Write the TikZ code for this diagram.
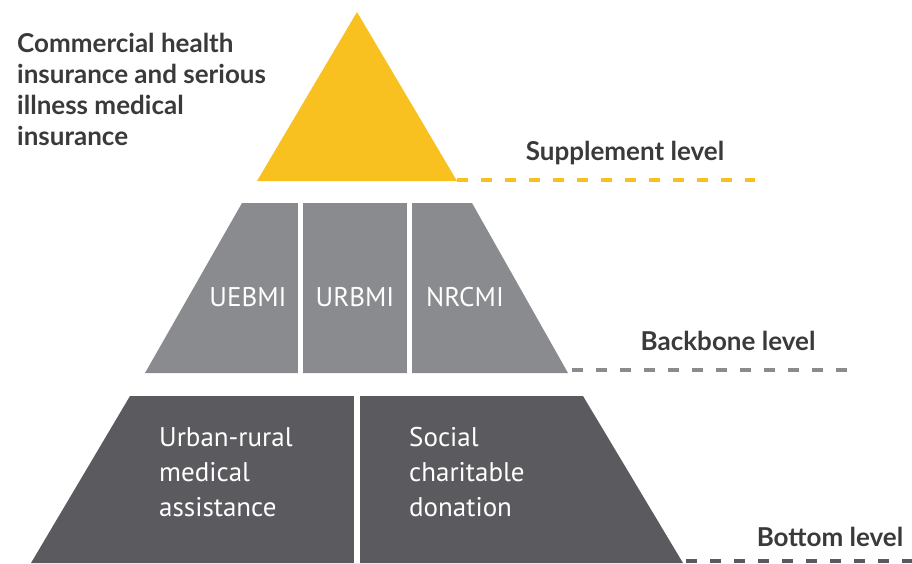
\documentclass[tikz,border=0pt]{standalone}
\usepackage{fontspec}
\setmainfont{Lato}
\newfontfamily\condfont{PT Sans}
\definecolor{supyellow}{HTML}{F8C120}
\definecolor{midgray}{HTML}{8A8B8E}
\definecolor{botgray}{HTML}{5B5B5F}
\definecolor{labeltext}{HTML}{3A3A3A}
\tikzset{
  levellabel/.style={font=\fontsize{26}{31}\selectfont\bfseries, text=labeltext},
  inlabel/.style={font=\condfont\fontsize{27}{35}\selectfont, text=white},
  levelline/.style={line width=3.5pt, dash pattern=on 11pt off 13pt}
}
\begin{document}
\begin{tikzpicture}[x=1pt,y=-1pt]

\useasboundingbox (0,0) rectangle (912,563);

%% supplement level
\fill[supyellow] (357,12) -- (457,181) -- (257,181) -- cycle;
\coordinate (supR) at (457,180);
\coordinate (supE) at (755,180);
\draw[levelline, supyellow] (supR) -- (supE);
\node[levellabel, anchor=west, align=left, inner sep=0pt] (commercial) at (17,89)
  {Commercial health\\insurance and serious\\illness medical\\insurance};
\node[levellabel] (suplabel) at (625,153) {Supplement level};

%% backbone level
\fill[midgray] (242,203) -- (472,203) -- (568,373) -- (145,373) -- cycle;
\draw[white, line width=5pt] (300.5,200) -- (300.5,376);
\draw[white, line width=5pt] (409.5,200) -- (409.5,376);
\node[inlabel] (uebmi) at (248,297) {UEBMI};
\node[inlabel] (urbmi) at (355,297) {URBMI};
\node[inlabel] (nrcmi) at (465,297) {NRCMI};
\coordinate (bbR) at (572,370);
\coordinate (bbE) at (848,370);
\draw[levelline, midgray] (bbR) -- (bbE);
\node[levellabel] (bblabel) at (728,341) {Backbone level};

%% bottom level
\fill[botgray] (130,396) -- (583,396) -- (683,563) -- (31,563) -- cycle;
\draw[white, line width=6pt] (356.5,393) -- (356.5,563);
\node[inlabel, anchor=north west, align=left, inner sep=0pt] (assist) at (159,427)
  {Urban-rural\\medical\\assistance};
\node[inlabel, anchor=north west, align=left, inner sep=0pt] (donation) at (409,427)
  {Social\\charitable\\donation};
\coordinate (botR) at (686,561);
\coordinate (botE) at (912,561);
\draw[levelline, botgray] (botR) -- (botE);
\node[levellabel] (botlabel) at (830,537) {Bottom level};

\end{tikzpicture}
\end{document}
